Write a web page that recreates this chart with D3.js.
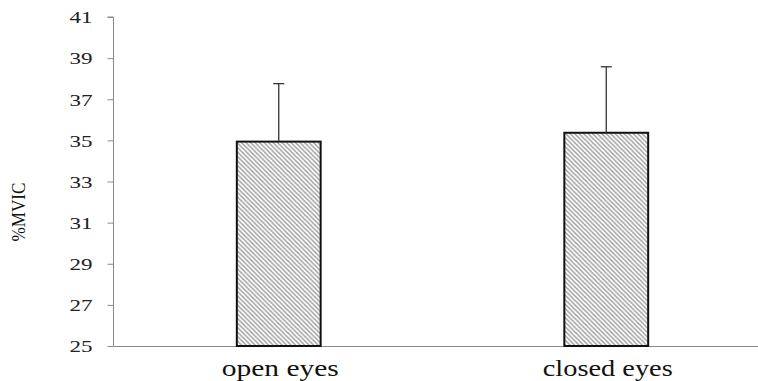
<!DOCTYPE html>
<html><head><meta charset="utf-8">
<script src="https://cdn.jsdelivr.net/npm/d3@7"></script>
<style>body{margin:0;background:#fff}svg{display:block}text{font-family:'Liberation Serif','Times New Roman',serif}</style>
</head><body>
<script>
const categories = ["open eyes", "closed eyes"];
const means = [34.94, 35.37];
const errors = [2.82, 3.21];
const yTicks = [25, 27, 29, 31, 33, 35, 37, 39, 41];
const yLabel = "%MVIC";

const W = 758, H = 381;
const FONT = "'Liberation Serif', 'Times New Roman', serif";
const svg = d3.select("body").append("svg").attr("width", W).attr("height", H);
const defs = svg.append("defs");
const pat = defs.append("pattern").attr("id", "hatch").attr("patternUnits", "userSpaceOnUse")
  .attr("width", 4.5).attr("height", 4.5);
pat.append("rect").attr("width", 4.5).attr("height", 4.5).attr("fill", "#fff");
pat.append("path").attr("d", "M-1,-1 L5.5,5.5 M-1,3.5 L1,5.5 M3.5,-1 L5.5,1")
  .attr("stroke", "#9a9a9a").attr("stroke-width", 1.4);

const axisX = 113.5, y0 = 346, y1 = 17;
const y = d3.scaleLinear().domain([25, 41]).range([y0, y1]);
const x = d3.scaleBand().domain(categories).range([115, 770]).paddingInner(0).paddingOuter(0);
const bw = x.bandwidth() * 0.256;

// y axis
const yAxis = d3.axisLeft(y).tickValues(yTicks).tickSize(6).tickFormat(d3.format("d"));
const gy = svg.append("g").attr("transform", `translate(${axisX},0)`).call(yAxis);
gy.attr("font-family", null);
gy.select(".domain").attr("stroke", "#8a8a8a").attr("d", `M0,${y0}V${y1}H-6M0,${y1}`);
gy.selectAll(".tick line").attr("stroke", "#8a8a8a");
gy.selectAll(".tick text").attr("x", -21).attr("dy", "0.36em")
  .style("font-family", FONT).attr("font-size", 16)
  .attr("fill", "#222").attr("textLength", 23).attr("lengthAdjust", "spacingAndGlyphs");

// x axis line
svg.append("line").attr("x1", axisX).attr("x2", W).attr("y1", y0 + 0.5).attr("y2", y0 + 0.5)
  .attr("stroke", "#8a8a8a").attr("stroke-width", 1);

// bars
const data = categories.map((c, i) => ({c, m: means[i], e: errors[i]}));
svg.selectAll("rect.bar").data(data).join("rect").attr("class", "bar")
  .attr("x", d => x(d.c) + x.bandwidth() / 2 - bw / 2)
  .attr("y", d => y(d.m))
  .attr("width", bw)
  .attr("height", d => y0 - y(d.m))
  .attr("fill", "url(#hatch)").attr("stroke", "#111").attr("stroke-width", 2);

// error bars (upper only)
const eg = svg.selectAll("g.err").data(data).join("g").attr("class", "err");
eg.append("line")
  .attr("x1", d => x(d.c) + x.bandwidth() / 2).attr("x2", d => x(d.c) + x.bandwidth() / 2)
  .attr("y1", d => y(d.m)).attr("y2", d => y(d.m + d.e))
  .attr("stroke", "#333").attr("stroke-width", 1.3);
eg.append("line")
  .attr("x1", d => x(d.c) + x.bandwidth() / 2 - 5.5).attr("x2", d => x(d.c) + x.bandwidth() / 2 + 5.5)
  .attr("y1", d => y(d.m + d.e)).attr("y2", d => y(d.m + d.e))
  .attr("stroke", "#333").attr("stroke-width", 1.3);

// category labels
const labelW = {"open eyes": 117, "closed eyes": 130};
svg.selectAll("text.cat").data(categories).join("text").attr("class", "cat")
  .attr("x", d => x(d) + x.bandwidth() / 2 + 1.5)
  .attr("y", 376)
  .attr("text-anchor", "middle")
  .style("font-family", FONT).attr("font-size", 23)
  .attr("fill", "#111")
  .attr("textLength", d => labelW[d]).attr("lengthAdjust", "spacingAndGlyphs")
  .text(d => d);

// y label
svg.append("text").attr("transform", "translate(25,212) rotate(-90)")
  .attr("text-anchor", "middle")
  .style("font-family", FONT).attr("font-size", 18)
  .attr("textLength", 59).attr("lengthAdjust", "spacingAndGlyphs")
  .attr("fill", "#111").text(yLabel);
</script>
</body></html>
